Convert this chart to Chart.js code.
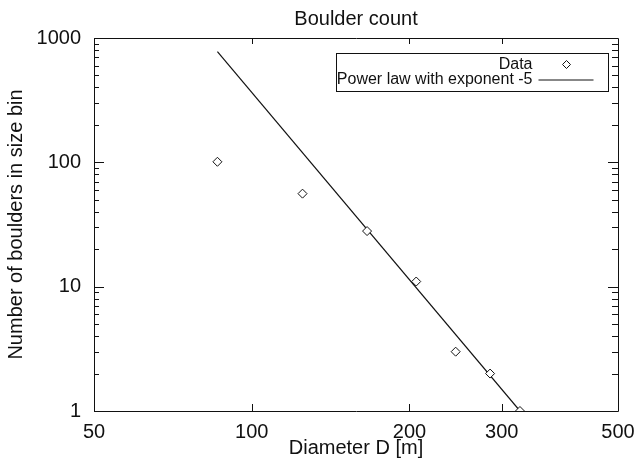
<!DOCTYPE html>
<html>
<head>
<meta charset="utf-8">
<script src="https://cdn.jsdelivr.net/npm/chart.js@4/dist/chart.umd.min.js"></script>
<style>
  html, body { margin: 0; padding: 0; background: #fff; }
  canvas { display: block; }
</style>
</head>
<body>
<canvas id="chart" width="635" height="474"></canvas>
<script>
// Boulder size distribution (log-log)
const diameters = [86, 125, 166, 206, 245, 285, 325];
const counts = [101, 56, 28, 11, 3, 2, 1];

// power law fit, exponent -5 (two end points, straight on log-log)
const fitDiameters = [86, 325];
const fitCounts = [777, 1];

const xTickValues = [50, 100, 200, 300, 500];
const xMarkValues = [100, 200, 300];
const yTickValues = [1, 10, 100, 1000];

const INK = '#111';
const FONT = '"Liberation Sans", Arial, Helvetica, sans-serif';

// frame, inward ticks and legend box, drawn over the data
const framePlugin = {
  id: 'frame',
  beforeDraw(chart) {
    // center the title over the plot box, not the canvas
    const t = chart.titleBlock;
    if (t) { t.left = chart.chartArea.left; t.right = chart.chartArea.right; }
  },
  afterDraw(chart) {
    const { ctx, chartArea: a, scales } = chart;
    const xs = scales.x, ys = scales.y;
    ctx.save();
    ctx.strokeStyle = INK;
    ctx.lineWidth = 1;
    ctx.beginPath();
    ctx.rect(Math.round(a.left) + 0.5, Math.round(a.top) + 0.5,
             Math.round(a.right - a.left), Math.round(a.bottom - a.top));
    ctx.stroke();

    ctx.beginPath();
    // x tick marks, top and bottom
    xMarkValues.forEach(v => {
      const px = Math.round(xs.getPixelForValue(v)) + 0.5;
      ctx.moveTo(px, a.bottom); ctx.lineTo(px, a.bottom - 7);
      ctx.moveTo(px, a.top); ctx.lineTo(px, a.top + 6);
    });
    // y tick marks, major and minor, left and right
    yTickValues.forEach((v, i) => {
      const py = Math.round(ys.getPixelForValue(v)) + 0.5;
      ctx.moveTo(a.left, py); ctx.lineTo(a.left + 10, py);
      ctx.moveTo(a.right, py); ctx.lineTo(a.right - 10, py);
      if (i < yTickValues.length - 1) {
        for (let m = 2; m <= 9; m++) {
          const pm = Math.round(ys.getPixelForValue(v * m)) + 0.5;
          ctx.moveTo(a.left, pm); ctx.lineTo(a.left + 5, pm);
          ctx.moveTo(a.right, pm); ctx.lineTo(a.right - 6, pm);
        }
      }
    });
    ctx.stroke();

    // legend
    const ds = chart.data.datasets;
    const bx = Math.round(a.right - 282) + 0.5, by = Math.round(a.top + 15) + 0.5;
    ctx.strokeRect(bx, by, 272, 38);
    ctx.fillStyle = INK;
    ctx.font = '16px ' + FONT;
    ctx.textAlign = 'right';
    ctx.textBaseline = 'middle';
    const tx = bx + 196;
    ctx.fillText(ds[0].label, tx, by + 11);
    ctx.fillText(ds[1].label, tx, by + 26);
    // diamond sample
    const dx = bx + 230, dy = by + 11;
    ctx.beginPath();
    ctx.moveTo(dx, dy - 4); ctx.lineTo(dx + 4, dy); ctx.lineTo(dx, dy + 4); ctx.lineTo(dx - 4, dy); ctx.closePath();
    ctx.stroke();
    // line sample
    ctx.beginPath();
    ctx.moveTo(bx + 202, by + 26.5); ctx.lineTo(bx + 257, by + 26.5);
    ctx.stroke();
    ctx.restore();
  }
};

new Chart(document.getElementById('chart'), {
  type: 'scatter',
  data: {
    datasets: [
      {
        label: 'Data',
        data: diameters.map((d, i) => ({ x: d, y: counts[i] })),
        pointStyle: 'rectRot',
        pointRadius: 4.5,
        pointBorderWidth: 1,
        borderColor: INK,
        backgroundColor: '#fff',
        showLine: false
      },
      {
        label: 'Power law with exponent -5',
        data: fitDiameters.map((d, i) => ({ x: d, y: fitCounts[i] })),
        showLine: true,
        pointRadius: 0,
        borderColor: INK,
        borderWidth: 1.2,
        fill: false
      }
    ]
  },
  options: {
    responsive: false,
    animation: false,
    devicePixelRatio: 1,
    layout: { padding: { left: 0, right: 17, top: 0, bottom: 0 } },
    plugins: {
      legend: { display: false },
      tooltip: { enabled: false },
      title: {
        display: true,
        text: 'Boulder count',
        color: INK,
        font: { family: FONT, size: 20, weight: 'normal' },
        padding: { top: 7, bottom: 7 }
      }
    },
    scales: {
      x: {
        type: 'logarithmic',
        min: 50,
        max: 500,
        afterBuildTicks: s => { s.ticks = xTickValues.map(v => ({ value: v })); },
        afterFit: s => { s.height = 63; s.paddingLeft = 0; s.paddingRight = 0; },
        grid: { display: false, drawTicks: false },
        border: { display: false },
        ticks: {
          color: INK,
          padding: 9,
          maxRotation: 0,
          font: { family: FONT, size: 20 },
          callback: v => String(v)
        },
        title: {
          display: true,
          text: 'Diameter D [m]',
          color: INK,
          font: { family: FONT, size: 20 },
          padding: { top: 0, bottom: 14 }
        }
      },
      y: {
        type: 'logarithmic',
        min: 1,
        max: 1000,
        afterBuildTicks: s => { s.ticks = yTickValues.map(v => ({ value: v })); },
        afterFit: s => { s.width = 94; s.paddingTop = 0; s.paddingBottom = 0; },
        grid: { display: false, drawTicks: false },
        border: { display: false },
        ticks: {
          color: INK,
          padding: 13,
          font: { family: FONT, size: 20 },
          callback: v => String(v)
        },
        title: {
          display: true,
          text: 'Number of boulders in size bin',
          color: INK,
          font: { family: FONT, size: 20 },
          padding: { top: 4, bottom: 0 }
        }
      }
    }
  },
  plugins: [framePlugin]
});
</script>
</body>
</html>
